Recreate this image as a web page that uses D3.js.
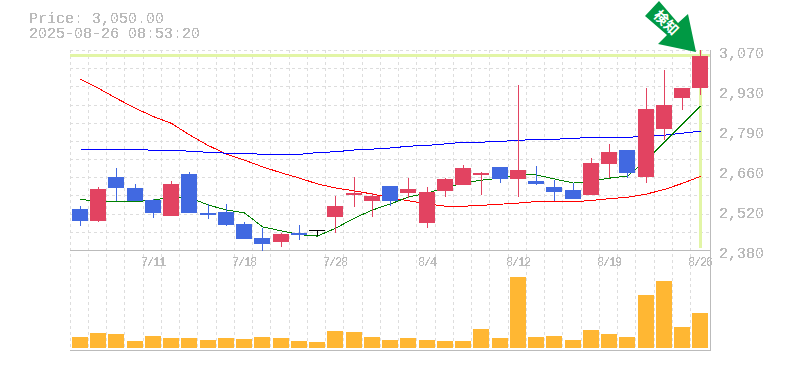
<!DOCTYPE html>
<html>
<head>
<meta charset="utf-8">
<script src="https://cdn.jsdelivr.net/npm/d3@7"></script>
<style>
    html, body { margin: 0; padding: 0; background: #fff; overflow: hidden; }
    text { font-family: "Liberation Mono", monospace; fill: #bbb; }
</style>
</head>
<body>
<div id="chart"></div>
<script>
(() => {

    const priceLabel = "Price: 3,050.00"
    const timeLabel = "2025-08-26 08:53:20"
    const signalLabel = "検知"

    const dates = ["7/7","7/8","7/9","7/10","7/11","7/14","7/15","7/16","7/17","7/18",
        "7/22","7/23","7/24","7/25","7/28","7/29","7/30","7/31","8/1","8/4",
        "8/5","8/6","8/7","8/8","8/12","8/13","8/14","8/15","8/18","8/19",
        "8/20","8/21","8/22","8/25","8/26"]
    const dateTicks = ["7/11","7/18","7/28","8/4","8/12","8/19","8/26"]
    const priceTicks = [2380, 2518, 2656, 2794, 2932, 3070]

    const opens = [2520,2480,2632,2594,2554,2497,2642,2508,2511,2470,2421,2408,2439,2449,2494,2570,2549,2601,2577,2473,
        2584,2604,2639,2666,2625,2618,2597,2587,2570,2677,2725,2632,2797,2904,2939]
    const highs = [2532,2597,2663,2608,2556,2618,2649,2539,2539,2477,2456,2439,2466,2449,2566,2632,2577,2601,2628,2597,
        2628,2673,2649,2666,2949,2670,2621,2611,2697,2746,2725,2939,3001,2939,3070]
    const lows = [2463,2477,2549,2549,2490,2497,2508,2487,2463,2418,2377,2390,2415,2428,2439,2528,2494,2532,2559,2456,
        2563,2604,2570,2611,2563,2604,2549,2556,2570,2628,2628,2611,2760,2863,2915]
    const closes = [2480,2590,2594,2549,2508,2608,2508,2501,2466,2418,2401,2435,2432,2449,2532,2577,2566,2549,2590,2580,
        2625,2663,2646,2625,2656,2608,2580,2556,2680,2718,2646,2866,2880,2939,3050]

    const maShort = [2555,2547,2546,2547,2552,2563,2561,2535,2518,2508,2460,2446,2433,2428,2455,2490,2518,2539,2563,2577,
        2594,2611,2621,2628,2639,2639,2625,2611,2618,2628,2635,2690,2753,2815,2877]
    const maLong = [2969,2938,2903,2869,2840,2817,2777,2740,2711,2690,2667,2646,2628,2608,2594,2584,2573,2560,2550,2539,
        2531,2531,2534,2538,2542,2547,2547,2546,2551,2557,2562,2573,2589,2610,2634]
    const maMid = [2727,2727,2727,2727,2724,2724,2721,2717,2714,2714,2710,2710,2710,2716,2719,2725,2728,2732,2738,2741,
        2746,2752,2752,2755,2758,2762,2762,2765,2769,2769,2769,2772,2776,2783,2790]

    // volume in thousands of shares
    const volumes = [11,15,14,7,12,10,10,8,10,9,11,10,7,6,17,16,11,8,10,8,7,7,19,10,71,11,12,8,18,14,11,53,67,21,35]

    const width = 785
    const height = 370
    const left = 70
    const right = 710
    const top = 50
    const priceBottom = 250
    const volBottom = 348
    const axisBottom = 350

    const svg = d3.select("#chart")
        .append("svg")
        .attr("width", width)
        .attr("height", height)
        .style("display", "block")

    const defs = svg.append("defs")
    const hardText = defs.append("filter").attr("id", "hard")
        .attr("x", "-5%").attr("y", "-20%").attr("width", "110%").attr("height", "140%")
    hardText.append("feComponentTransfer").append("feFuncA")
        .attr("type", "discrete")
        .attr("tableValues", "0 0 1 1 1")

    const x = d3.scaleBand()
        .domain(dates)
        .range([70.805, 709.55])
        .paddingInner(0.12)
        .paddingOuter(0.06)

    const barX = d => Math.round(x(d))
    const center = d => barX(d) + 8
    const gridX = d => Math.floor(x(d) - 1.7) + 0.5

    const y = d3.scaleLinear()
        .domain([2380, 3070])
        .range([priceBottom, top])

    const yVol = d3.scaleLinear()
        .domain([0, 98])
        .range([volBottom, priceBottom])

    // grid
    const grid = svg.append("g")
        .attr("stroke", "#ddd")
        .attr("stroke-dasharray", "3,3")
        .attr("shape-rendering", "crispEdges")

    grid.selectAll(".vgrid")
        .data(dates)
        .enter()
        .append("line")
            .attr("class", "vgrid")
            .attr("x1", gridX)
            .attr("x2", gridX)
            .attr("y1", top)
            .attr("y2", axisBottom)

    grid.selectAll(".hgrid")
        .data(d3.range(1, 12))
        .enter()
        .append("line")
            .attr("class", "hgrid")
            .attr("x1", left)
            .attr("x2", right)
            .attr("y1", k => Math.round(priceBottom - k * (priceBottom - top) / 11) + 0.5)
            .attr("y2", k => Math.round(priceBottom - k * (priceBottom - top) / 11) + 0.5)

    // frame
    const frame = svg.append("g")
        .attr("stroke", "#bbb")
        .attr("shape-rendering", "crispEdges")
    frame.append("line").attr("x1", left).attr("x2", right + 1).attr("y1", priceBottom + 0.5).attr("y2", priceBottom + 0.5)
    frame.append("line").attr("x1", left).attr("x2", right + 1).attr("y1", axisBottom + 0.5).attr("y2", axisBottom + 0.5)
    frame.append("line").attr("x1", right + 0.5).attr("x2", right + 0.5).attr("y1", top).attr("y2", axisBottom + 1)

    // current price cross
    const lastDate = dates[dates.length - 1]
    const lastClose = closes[closes.length - 1]
    svg.append("rect")
        .attr("x", left)
        .attr("width", right - left)
        .attr("y", Math.round(y(lastClose)) - 2)
        .attr("height", 3)
        .attr("fill", "#e2f5a6")
    svg.append("rect")
        .attr("x", center(lastDate) - 1)
        .attr("width", 3)
        .attr("y", top)
        .attr("height", priceBottom - top - 2)
        .attr("fill", "#e2f5a6")

    // moving averages
    const line = d3.line()
        .x((d, i) => center(dates[i]) + 0.5)
        .y(d => y(d))

    const series = [[maLong, "#ff0000"], [maMid, "#0000ff"], [maShort, "#008000"]]
    svg.selectAll(".ma")
        .data(series)
        .enter()
        .append("path")
            .attr("class", "ma")
            .attr("d", d => line(d[0]))
            .attr("fill", "none")
            .attr("stroke", d => d[1])
            .attr("shape-rendering", "crispEdges")

    // candles
    const candleColor = i => closes[i] > opens[i] ? "#e24361" : (closes[i] < opens[i] ? "#4169e1" : "#000")

    const candles = svg.append("g")
        .attr("shape-rendering", "crispEdges")

    candles.selectAll(".wick")
        .data(dates)
        .enter()
        .append("line")
            .attr("class", "wick")
            .attr("x1", d => center(d) + 0.5)
            .attr("x2", d => center(d) + 0.5)
            .attr("y1", (d, i) => y(highs[i]))
            .attr("y2", (d, i) => y(lows[i]))
            .attr("stroke", (d, i) => candleColor(i))

    candles.selectAll(".body")
        .data(dates)
        .enter()
        .append("rect")
            .attr("class", "body")
            .attr("x", barX)
            .attr("width", 16)
            .attr("y", (d, i) => Math.round(y(Math.max(opens[i], closes[i]))))
            .attr("height", (d, i) => Math.max(1, Math.round(y(Math.min(opens[i], closes[i]))) - Math.round(y(Math.max(opens[i], closes[i])))))
            .attr("fill", (d, i) => candleColor(i))

    // volume
    svg.append("g")
        .attr("shape-rendering", "crispEdges")
        .selectAll("rect")
        .data(volumes)
        .enter()
        .append("rect")
            .attr("x", (d, i) => barX(dates[i]))
            .attr("width", 16)
            .attr("y", d => yVol(d))
            .attr("height", d => volBottom - yVol(d))
            .attr("fill", "#ffb733")

    // labels
    const labels = svg.append("g").attr("filter", "url(#hard)")

    labels.append("text").attr("x", 29).attr("y", 23).attr("font-size", 15).text(priceLabel)
    labels.append("text").attr("x", 29).attr("y", 38).attr("font-size", 15).text(timeLabel)

    labels.selectAll(".ptick")
        .data(priceTicks)
        .enter()
        .append("text")
            .attr("class", "ptick")
            .attr("x", 719)
            .attr("y", d => y(d) + 7.5)
            .attr("font-size", 15)
            .text(d => d3.format(",")(Math.round(d / 10) * 10))

    labels.selectAll(".dtick")
        .data(dateTicks)
        .enter()
        .append("text")
            .attr("class", "dtick")
            .attr("x", d => center(d))
            .attr("y", 266)
            .attr("text-anchor", "middle")
            .attr("font-size", 12)
            .attr("letter-spacing", "-1.2px")
            .text(d => d)

    // signal arrow, drawn relative to the last candle's high
    const tipX = center(lastDate) - 4
    const tipY = y(highs[highs.length - 1]) + 2
    const arrowShape = [[-37,-51],[-51,-36],[-29,-17],[-38,-8],[0,0],[-8,-38],[-18,-29]]
    const arrow = svg.append("g")
        .attr("transform", `translate(${tipX}, ${tipY})`)
    arrow.append("polygon")
        .attr("points", arrowShape.map(p => p.join(",")).join(" "))
        .attr("fill", "#009944")
    arrow.append("text")
        .attr("transform", "translate(-29, -30) rotate(45)")
        .attr("text-anchor", "middle")
        .attr("dominant-baseline", "central")
        .style("font-family", '"Noto Sans CJK JP"')
        .style("font-weight", "bold")
        .style("font-size", "14px")
        .style("fill", "#fff")
        .text(signalLabel)

})();
</script>
</body>
</html>
